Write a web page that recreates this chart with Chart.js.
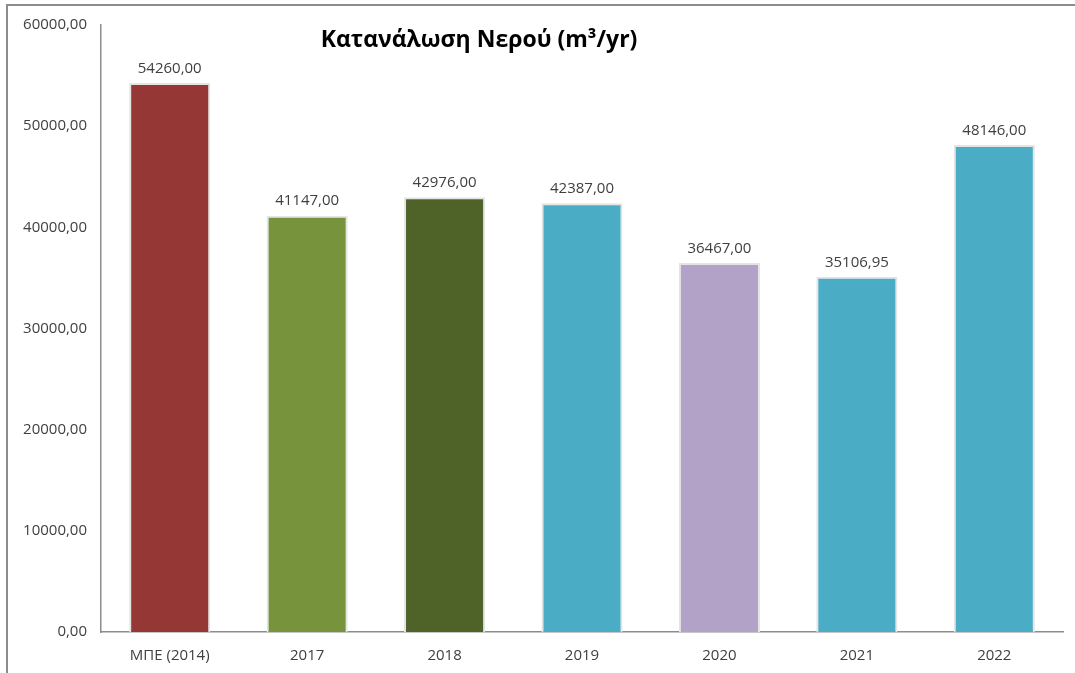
<!DOCTYPE html>
<html lang="el">
<head>
    <meta charset="UTF-8">
    <title>Κατανάλωση Νερού</title>
    <script src="https://cdn.jsdelivr.net/npm/chart.js"></script>
    <style>
        html, body {
            margin: 0;
            padding: 0;
            background: #FFFFFF;
            overflow: hidden;
        }
        .frame {
            position: absolute;
            left: 6px;
            top: 4px;
            width: 1200px;
            height: 800px;
            border-left: 2px solid #8c8c8c;
            border-top: 2px solid #8c8c8c;
        }
        .chart-box {
            position: absolute;
            left: 0;
            top: 0;
            width: 1075px;
            height: 673px;
        }
    </style>
</head>
<body>
    <div class="frame"></div>
    <div class="chart-box">
        <canvas id="chart"></canvas>
    </div>
    <script>
        const categories = ["ΜΠΕ (2014)", "2017", "2018", "2019", "2020", "2021", "2022"];
        const consumption = [54260.00, 41147.00, 42976.00, 42387.00, 36467.00, 35106.95, 48146.00];
        const barColors = ["#953735", "#77933C", "#4F6228", "#4BACC6", "#B3A2C7", "#4BACC6", "#4BACC6"];
        const chartTitle = "Κατανάλωση Νερού (m³/yr)";

        const fontFamily = "'Open Sans', 'Noto Sans', sans-serif";

        // comma as decimal separator, two decimals
        function fmt(v) {
            return Number(v).toFixed(2).replace('.', ',');
        }

        // value labels above each bar
        const valueLabels = {
            id: 'valueLabels',
            afterDatasetsDraw(chart) {
                const ctx = chart.ctx;
                const meta = chart.getDatasetMeta(0);
                ctx.save();
                ctx.font = "15px " + fontFamily;
                ctx.fillStyle = "#404040";
                ctx.textAlign = "center";
                ctx.textBaseline = "bottom";
                meta.data.forEach((bar, i) => {
                    ctx.fillText(fmt(chart.data.datasets[0].data[i]), bar.x, bar.y - 7);
                });
                ctx.restore();
            }
        };

        // title sits inside the plot area
        const innerTitle = {
            id: 'innerTitle',
            afterDraw(chart) {
                const ctx = chart.ctx;
                ctx.save();
                ctx.font = "bold 23px " + fontFamily;
                ctx.fillStyle = "#000000";
                ctx.textAlign = "center";
                ctx.textBaseline = "middle";
                ctx.fillText(chartTitle, 479, 40);
                ctx.restore();
            }
        };

        const ctx = document.getElementById('chart').getContext('2d');
        const chart = new Chart(ctx, {
            type: 'bar',
            data: {
                labels: categories,
                datasets: [{
                    data: consumption,
                    backgroundColor: barColors,
                    borderColor: "#e4e4e4",
                    borderWidth: 2,
                    categoryPercentage: 1.0,
                    barPercentage: 0.59
                }]
            },
            options: {
                responsive: true,
                maintainAspectRatio: false,
                animation: false,
                layout: {
                    padding: { top: 25, right: 12, left: 0, bottom: 0 }
                },
                scales: {
                    x: {
                        grid: { display: false, drawTicks: false },
                        border: { display: true, color: "#8c8c8c", width: 1.5 },
                        ticks: {
                            color: "#404040",
                            font: { family: fontFamily, size: 15 },
                            padding: 15
                        },
                        afterFit(scale) { scale.height = 41; }
                    },
                    y: {
                        min: 0,
                        max: 60000,
                        grid: { display: false, drawTicks: false },
                        border: { display: true, color: "#8c8c8c", width: 1.5 },
                        ticks: {
                            stepSize: 10000,
                            color: "#404040",
                            font: { family: fontFamily, size: 15 },
                            padding: 14,
                            callback: v => fmt(v)
                        },
                        afterFit(scale) { scale.width = 101; }
                    }
                },
                plugins: {
                    legend: { display: false },
                    tooltip: { enabled: false }
                }
            },
            plugins: [valueLabels, innerTitle]
        });
    </script>
</body>
</html>
